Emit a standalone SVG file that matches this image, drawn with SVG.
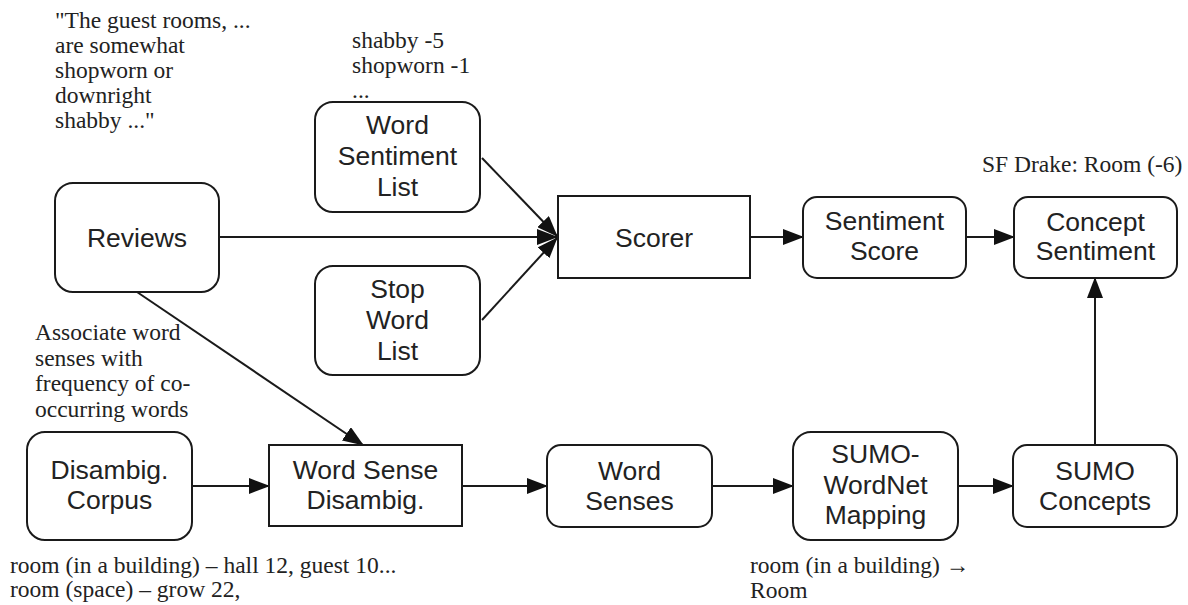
<svg xmlns="http://www.w3.org/2000/svg" width="1188" height="605" viewBox="0 0 1188 605">
  <style>
    .box { fill: #ffffff; stroke: #1a1a1a; stroke-width: 2; }
    .lbl { font-family: "Liberation Sans", Arial, sans-serif; font-size: 26.5px; fill: #222222; text-anchor: middle; }
    .note { font-family: "Liberation Serif", "Times New Roman", serif; font-size: 23.5px; fill: #222222; }
    .edge { fill: none; stroke: #1a1a1a; stroke-width: 2; marker-end: url(#arrow); }
  </style>
  <defs>
    <marker id="arrow" viewBox="0 0 21 16" refX="20" refY="8" markerWidth="21" markerHeight="16" markerUnits="userSpaceOnUse" orient="auto">
      <path d="M0,0 L21,8 L0,16 Z" fill="#111111"/>
    </marker>
  </defs>

  <rect width="1188" height="605" fill="#ffffff"/>

  <!-- annotations -->
  <g id="notes">
    <text class="note" x="55" y="28">"The guest rooms, ...</text>
    <text class="note" x="55" y="53">are somewhat</text>
    <text class="note" x="55" y="78">shopworn or</text>
    <text class="note" x="55" y="103">downright</text>
    <text class="note" x="55" y="128">shabby ..."</text>

    <text class="note" x="352" y="48">shabby -5</text>
    <text class="note" x="352" y="73">shopworn -1</text>
    <text class="note" x="352" y="98">...</text>

    <text class="note" x="982" y="172">SF Drake: Room (-6)</text>

    <text class="note" x="35" y="340">Associate word</text>
    <text class="note" x="35" y="366">senses with</text>
    <text class="note" x="35" y="391">frequency of co-</text>
    <text class="note" x="35" y="417">occurring words</text>

    <text class="note" x="10" y="573">room (in a building) – hall 12, guest 10...</text>
    <text class="note" x="10" y="597">room (space) – grow 22,</text>

    <text class="note" x="750" y="573">room (in a building) →</text>
    <text class="note" x="750" y="598">Room</text>
  </g>

  <!-- connectors -->
  <g id="connectors">
    <line class="edge" x1="219" y1="237" x2="557" y2="237"/>
    <line class="edge" x1="482" y1="158" x2="557" y2="236"/>
    <line class="edge" x1="482" y1="320" x2="557" y2="238"/>
    <line class="edge" x1="750" y1="237" x2="803" y2="237"/>
    <line class="edge" x1="966" y1="237" x2="1014" y2="237"/>
    <line class="edge" x1="137" y1="292" x2="363" y2="445"/>
    <line class="edge" x1="192" y1="486" x2="269" y2="486"/>
    <line class="edge" x1="462" y1="486" x2="547" y2="486"/>
    <line class="edge" x1="712" y1="486" x2="793" y2="486"/>
    <line class="edge" x1="958" y1="486" x2="1013" y2="486"/>
    <line class="edge" x1="1095" y1="445" x2="1095" y2="278"/>
  </g>

  <!-- nodes -->
  <g id="reviews">
    <rect class="box" x="55" y="183" width="164" height="109" rx="18"/>
    <text class="lbl" x="137" y="247">Reviews</text>
  </g>

  <g id="word-sentiment-list">
    <rect class="box" x="315" y="102" width="165" height="110" rx="18"/>
    <text class="lbl" x="397.5" y="134">Word</text>
    <text class="lbl" x="397.5" y="165">Sentiment</text>
    <text class="lbl" x="397.5" y="196">List</text>
  </g>

  <g id="stop-word-list">
    <rect class="box" x="315" y="266" width="165" height="109" rx="18"/>
    <text class="lbl" x="397.5" y="298">Stop</text>
    <text class="lbl" x="397.5" y="329">Word</text>
    <text class="lbl" x="397.5" y="360">List</text>
  </g>

  <g id="scorer">
    <rect class="box" x="558" y="196" width="192" height="82"/>
    <text class="lbl" x="654" y="247">Scorer</text>
  </g>

  <g id="sentiment-score">
    <rect class="box" x="803" y="197" width="163" height="81" rx="14"/>
    <text class="lbl" x="884.5" y="230">Sentiment</text>
    <text class="lbl" x="884.5" y="260">Score</text>
  </g>

  <g id="concept-sentiment">
    <rect class="box" x="1014" y="197" width="163" height="81" rx="14"/>
    <text class="lbl" x="1095.5" y="231">Concept</text>
    <text class="lbl" x="1095.5" y="260">Sentiment</text>
  </g>

  <g id="disambig-corpus">
    <rect class="box" x="27" y="432" width="165" height="108" rx="18"/>
    <text class="lbl" x="109.5" y="479">Disambig.</text>
    <text class="lbl" x="109.5" y="509">Corpus</text>
  </g>

  <g id="word-sense-disambig">
    <rect class="box" x="269" y="445" width="193" height="81"/>
    <text class="lbl" x="365.5" y="479">Word Sense</text>
    <text class="lbl" x="365.5" y="509">Disambig.</text>
  </g>

  <g id="word-senses">
    <rect class="box" x="547" y="445" width="165" height="82" rx="14"/>
    <text class="lbl" x="629.5" y="480">Word</text>
    <text class="lbl" x="629.5" y="510">Senses</text>
  </g>

  <g id="sumo-wordnet-mapping">
    <rect class="box" x="793" y="432" width="165" height="108" rx="18"/>
    <text class="lbl" x="875.5" y="463">SUMO-</text>
    <text class="lbl" x="875.5" y="494">WordNet</text>
    <text class="lbl" x="875.5" y="524">Mapping</text>
  </g>

  <g id="sumo-concepts">
    <rect class="box" x="1013" y="445" width="164" height="82" rx="14"/>
    <text class="lbl" x="1095" y="480">SUMO</text>
    <text class="lbl" x="1095" y="510">Concepts</text>
  </g>
</svg>
